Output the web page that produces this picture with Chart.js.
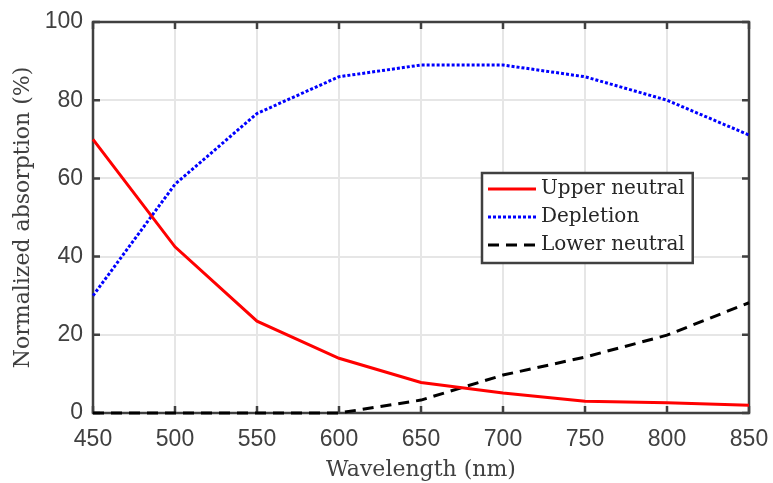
<!DOCTYPE html>
<html>
<head>
<meta charset="utf-8">
<script src="https://cdn.jsdelivr.net/npm/chart.js@4.4.1/dist/chart.umd.min.js"></script>
<style>
  html, body { margin: 0; padding: 0; background: #fff; }
  #wrap { width: 773px; height: 483px; }
</style>
</head>
<body>
<div id="wrap"><canvas id="c" width="773" height="483"></canvas></div>
<script>
// ---- data ----
const wavelengths = [450, 500, 550, 600, 650, 700, 750, 800, 850];
const upperNeutral = [70, 42.5, 23.5, 14, 7.8, 5.1, 3.0, 2.6, 2.0];
const depletion = [30, 58.5, 76.6, 86, 89, 89, 86, 80, 71.1];
const lowerNeutral = [0, 0, 0, 0, 3.3, 9.7, 14.3, 19.9, 28.2];
const xTicks = [450, 500, 550, 600, 650, 700, 750, 800, 850];
const yTicks = [0, 20, 40, 60, 80, 100];
const seriesLabels = ['Upper neutral', 'Depletion', 'Lower neutral'];
const xTitle = 'Wavelength (nm)';
const yTitle = 'Normalized absorption (%)';

const toXY = arr => wavelengths.map((w, i) => ({ x: w, y: arr[i] }));
const AXIS = '#404040';

const framePlugin = {
  id: 'frame',
  beforeDatasetsDraw(chart) {
    const { ctx, chartArea: a, scales } = chart;
    ctx.save();
    ctx.strokeStyle = AXIS;
    ctx.lineWidth = 2.5;
    ctx.strokeRect(a.left, a.top, a.right - a.left, a.bottom - a.top);
    const tl = 7;
    ctx.beginPath();
    xTicks.forEach(v => {
      const px = scales.x.getPixelForValue(v);
      ctx.moveTo(px, a.bottom); ctx.lineTo(px, a.bottom - tl);
      ctx.moveTo(px, a.top); ctx.lineTo(px, a.top + tl);
    });
    yTicks.forEach(v => {
      const py = scales.y.getPixelForValue(v);
      ctx.moveTo(a.left, py); ctx.lineTo(a.left + tl, py);
      ctx.moveTo(a.right, py); ctx.lineTo(a.right - tl, py);
    });
    ctx.stroke();
    ctx.restore();
  },
  afterDraw(chart) {
    const { ctx } = chart;
    const ds = chart.data.datasets;
    ctx.save();
    ctx.font = '20px "DejaVu Serif"';
    const maxW = Math.max(...ds.map(d => ctx.measureText(d.label).width));
    const bx = 482, by = 173;
    const sampleL = 6, sampleW = 48, gap = 5;
    const bw = sampleL + sampleW + gap + maxW + 8;
    const rowH = 28;
    const bh = 90;
    ctx.fillStyle = '#fff';
    ctx.fillRect(bx, by, bw, bh);
    ctx.strokeStyle = AXIS;
    ctx.lineWidth = 2.5;
    ctx.strokeRect(bx, by, bw, bh);
    ds.forEach((d, i) => {
      const y = by + 16 + i * rowH;
      ctx.beginPath();
      ctx.strokeStyle = d.borderColor;
      ctx.lineWidth = d.borderWidth;
      ctx.setLineDash(d.borderDash || []);
      ctx.moveTo(bx + sampleL, y);
      ctx.lineTo(bx + sampleL + sampleW, y);
      ctx.stroke();
      ctx.setLineDash([]);
      ctx.fillStyle = '#262626';
      ctx.textBaseline = 'middle';
      ctx.textAlign = 'left';
      ctx.fillText(d.label, bx + sampleL + sampleW + gap, y);
    });
    ctx.restore();
  }
};

new Chart(document.getElementById('c'), {
  type: 'line',
  data: {
    datasets: [
      { label: seriesLabels[0], data: toXY(upperNeutral), borderColor: '#ff0000', borderWidth: 3, pointRadius: 0, tension: 0, clip: 4 },
      { label: seriesLabels[1], data: toXY(depletion), borderColor: '#0000ff', borderWidth: 3, borderDash: [3, 2], pointRadius: 0, tension: 0, clip: 4 },
      { label: seriesLabels[2], data: toXY(lowerNeutral), borderColor: '#000000', borderWidth: 3, borderDash: [11, 7], pointRadius: 0, tension: 0, clip: 4 }
    ]
  },
  options: {
    responsive: false,
    animation: false,
    devicePixelRatio: 1,
    layout: { padding: { top: 22, right: 24, left: 0, bottom: 0 } },
    plugins: { legend: { display: false }, tooltip: { enabled: false } },
    scales: {
      x: {
        type: 'linear', min: 450, max: 850,
        afterBuildTicks: s => { s.ticks = xTicks.map(v => ({ value: v })); },
        afterFit: s => { s.height = 70; s.paddingLeft = 0; s.paddingRight = 0; },
        ticks: { font: { family: '"Liberation Sans"', size: 23 }, color: AXIS, padding: 13, maxRotation: 0 },
        grid: { color: '#e6e6e6', lineWidth: 2, drawTicks: false },
        border: { display: false },
        title: { display: true, text: xTitle, font: { family: '"DejaVu Serif"', size: 22 }, color: AXIS, padding: { top: 0, bottom: 0 } }
      },
      y: {
        type: 'linear', min: 0, max: 100,
        afterBuildTicks: s => { s.ticks = yTicks.map(v => ({ value: v })); },
        afterFit: s => { s.width = 93; s.paddingTop = 0; s.paddingBottom = 0; },
        ticks: { font: { family: '"Liberation Sans"', size: 23 }, color: AXIS, padding: 10 },
        grid: { color: '#e6e6e6', lineWidth: 2, drawTicks: false },
        border: { display: false },
        title: { display: true, text: yTitle, font: { family: '"DejaVu Serif"', size: 22 }, color: AXIS, padding: { top: 10, bottom: 0 } }
      }
    }
  },
  plugins: [framePlugin]
});
</script>
</body>
</html>
